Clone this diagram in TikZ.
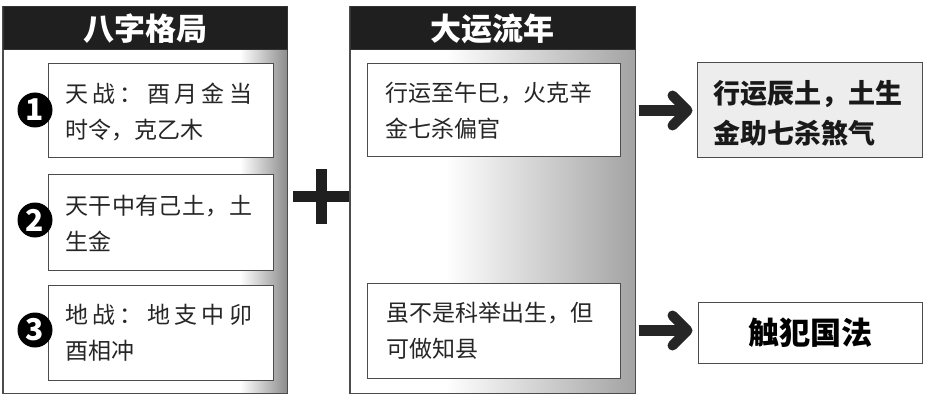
\documentclass[tikz,border=0pt]{standalone}
\usepackage{fontspec}
\setmainfont{Noto Sans CJK SC}
\usetikzlibrary{calc}
\begin{document}
\begin{tikzpicture}[x=1pt,y=-1pt,
  panel/.style={draw=black!70, line width=1pt, inner sep=0pt},
  hdr/.style={fill=black!88, draw=black!80, line width=1pt, inner sep=0pt, text=white,
    font=\fontsize{31}{31}\selectfont\bfseries},
  ibox/.style={draw=black!70, line width=1pt, fill=white, inner sep=0pt},
  btext/.style={anchor=west, inner sep=0pt, align=left, text=black!85,
    font=\fontsize{23}{36}\selectfont},
  rtext/.style={anchor=west, inner sep=0pt, align=left, text=black!90,
    font=\fontsize{27}{40}\selectfont\bfseries},
  num/.style={circle, fill=black, text=white, minimum size=35pt, inner sep=0pt,
    font=\fontsize{30}{30}\selectfont\bfseries},
  plusbar/.style={line width=11pt, black!88},
  shaft/.style={line width=11pt, black!85},
  chev/.style={line width=10pt, black!85, line cap=round, line join=round}]
\useasboundingbox (0,0) rectangle (928,406);

% ---------- left panel ----------
\node[panel, fill=white, minimum width=284pt, minimum height=386pt] (lp) at (145,200) {};
\shade[left color=white, right color=black!45] (240,50) rectangle (287,393);
\draw[black!70, line width=1pt] (lp.north west) rectangle (lp.south east);
\node[hdr, minimum width=284pt, minimum height=43pt] (lh) at (145,28.5) {八字格局};

\node[ibox, minimum width=225pt, minimum height=94pt] (l1) at (160.5,111) {};
\node[ibox, minimum width=225pt, minimum height=95pt] (l2) at (160.5,222.5) {};
\node[ibox, minimum width=225pt, minimum height=95pt] (l3) at (160.5,332.5) {};

\node[btext] (l1t) at (65,112) {\hbox to 187pt{天\hfill 战\hfill ：\hfill 酉\hfill 月\hfill 金\hfill 当}\\时令，克乙木};
\node[btext] (l2t) at (65,223) {\hbox to 187pt{天\hfill 干\hfill 中\hfill 有\hfill 己\hfill 土\hfill ，\hfill 土}\\生金};
\node[btext] (l3t) at (65,333) {\hbox to 187pt{地\hfill 战\hfill ：\hfill 地\hfill 支\hfill 中\hfill 卯}\\酉相冲};

\node[num] (n1) at (35,110) {1};
\node[num] (n2) at (35,220) {2};
\node[num] (n3) at (35,330) {3};

% ---------- plus ----------
\coordinate (plus) at (321.5,196.5);
\draw[plusbar] ($(plus)+(-28.5,0)$) -- ($(plus)+(28.5,0)$);
\draw[plusbar] ($(plus)+(0,-27.5)$) -- ($(plus)+(0,27.5)$);

% ---------- middle panel ----------
\node[panel, fill=white, minimum width=285pt, minimum height=386pt] (mp) at (492.5,200) {};
\shade[left color=white, right color=black!36] (445,50) rectangle (635,393);
\draw[black!70, line width=1pt] (mp.north west) rectangle (mp.south east);
\node[hdr, minimum width=285pt, minimum height=43pt] (mh) at (492.5,28.5) {大运流年};

\node[ibox, minimum width=253pt, minimum height=93pt] (m1) at (493.5,110.5) {};
\node[ibox, minimum width=253pt, minimum height=95pt] (m2) at (493.5,330.5) {};
\node[btext] (m1t) at (385,111) {行运至午巳，火克辛\\金七杀偏官};
\node[btext] (m2t) at (386,331) {虽不是科举出生，但\\可做知县};

% ---------- right boxes ----------
\node[ibox, fill=black!7, minimum width=225pt, minimum height=95pt] (r1) at (809.5,110.5) {};
\node[rtext] (r1t) at (713,113) {行运辰土，土生\\金助七杀煞气};
\node[ibox, minimum width=224pt, minimum height=61pt] (r2) at (810,332.5) {\fontsize{31}{31}\selectfont\bfseries 触犯国法};

% ---------- arrows ----------
\coordinate (a1s) at ($(mp.east |- r1.west)+(3,0)$);
\coordinate (a1e) at ($(r1.west)+(-4,0)$);
\draw[shaft] (a1s) -- ($(a1e)+(-12,0)$);
\draw[chev] ($(a1e)+(-20,-15)$) -- ($(a1e)+(-5,0)$) -- ($(a1e)+(-20,15)$);

\coordinate (a2s) at ($(mp.east |- r2.west)+(3,-2)$);
\coordinate (a2e) at ($(r2.west)+(-5,-2)$);
\draw[shaft] (a2s) -- ($(a2e)+(-12,0)$);
\draw[chev] ($(a2e)+(-20,-15)$) -- ($(a2e)+(-5,0)$) -- ($(a2e)+(-20,15)$);
\end{tikzpicture}
\end{document}
